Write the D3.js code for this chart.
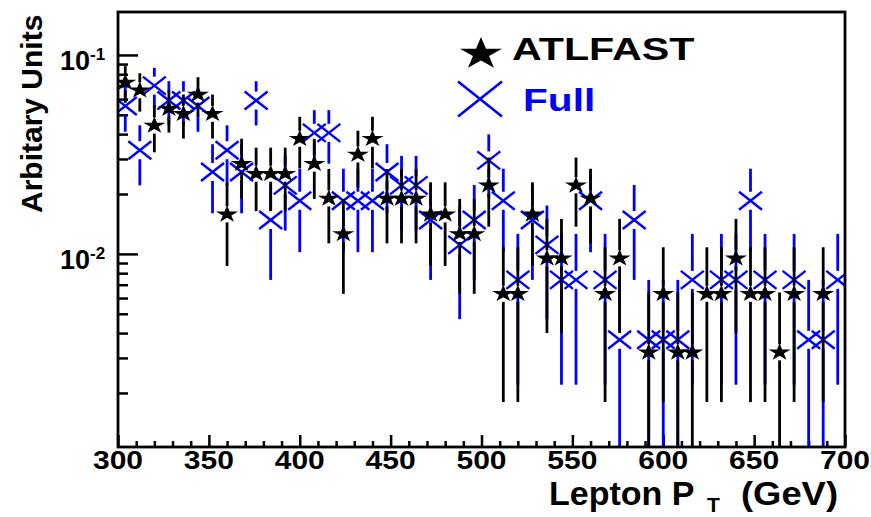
<!DOCTYPE html>
<html><head><meta charset="utf-8">
<script src="https://cdn.jsdelivr.net/npm/d3@7"></script>
<style>html,body{margin:0;padding:0;background:#fff;}svg{display:block;}</style>
</head><body>
<svg id="chart" width="871" height="517"></svg>
<script>
// ---- data ----
const binCenters = [304,312,320,328,336,344,352,360,368,376,384,392,400,408,416,424,432,440,448,456,464,472,480,488,496,504,512,520,528,536,544,552,560,568,576,584,592,600,608,616,624,632,640,648,656,664,672,680,688,696];
const atlfastValues = [0.0727,0.0664,0.0442,0.0537,0.0506,0.0632,0.0506,0.0158,0.0284,0.0253,0.0253,0.0253,0.0379,0.0284,0.0190,0.0126,0.0316,0.0379,0.0190,0.0190,0.0190,0.0158,0.0158,0.0126,0.0126,0.0221,0.0063,0.0063,0.0158,0.0095,0.0095,0.0221,0.0190,0.0063,0.0095,0,0.0032,0.0063,0.0032,0.0032,0.0063,0.0063,0.0095,0.0063,0.0063,0.0032,0.0063,0,0.0063,0];
const atlfastErrors = [0.0152,0.0145,0.0118,0.0130,0.0126,0.0141,0.0126,0.0071,0.0095,0.0089,0.0089,0.0089,0.0110,0.0095,0.0077,0.0063,0.0100,0.0110,0.0077,0.0077,0.0077,0.0071,0.0071,0.0063,0.0063,0.0084,0.0045,0.0045,0.0071,0.0055,0.0055,0.0084,0.0077,0.0045,0.0055,0,0.0032,0.0045,0.0032,0.0032,0.0045,0.0045,0.0055,0.0045,0.0045,0.0032,0.0045,0,0.0045,0];
const fullValues = [0.0554,0.0332,0.0701,0.0590,0.0590,0.0554,0.0258,0.0332,0.0258,0.0590,0.0148,0.0221,0.0185,0.0406,0.0406,0.0185,0.0185,0.0185,0.0258,0.0221,0.0221,0.0148,0,0.0111,0.0148,0.0295,0.0185,0.0074,0.0148,0.0111,0.0074,0.0074,0.0185,0.0074,0.0037,0.0148,0.0037,0.0037,0.0037,0.0074,0,0.0074,0.0074,0.0185,0.0074,0,0.0074,0.0037,0.0037,0.0074];
const fullErrors = [0.0143,0.0111,0.0161,0.0148,0.0148,0.0143,0.0098,0.0111,0.0098,0.0148,0.0074,0.0090,0.0083,0.0122,0.0122,0.0083,0.0083,0.0083,0.0098,0.0090,0.0090,0.0074,0,0.0064,0.0074,0.0104,0.0083,0.0052,0.0074,0.0064,0.0052,0.0052,0.0083,0.0052,0.0037,0.0074,0.0037,0.0037,0.0037,0.0052,0,0.0052,0.0052,0.0083,0.0052,0,0.0052,0.0037,0.0037,0.0052];
const xMajorTicks = [300,350,400,450,500,550,600,650,700];
const xMinorTicks = [310,320,330,340,360,370,380,390,410,420,430,440,460,470,480,490,510,520,530,540,560,570,580,590,610,620,630,640,660,670,680,690];
const yMajorTicks = [0.1,0.01];
const yMajorLabels = ["-1","-2"];
const yMinorTicks = [0.09,0.08,0.07,0.06,0.05,0.04,0.03,0.02,0.009,0.008,0.007,0.006,0.005,0.004,0.003,0.002];
const seriesNames = ["ATLFAST","Full"];
const xTitle = "Lepton P";
const xTitleSub = "T";
const xTitleUnit = "(GeV)";
const yTitle = "Arbitary Units";

// ---- layout ----
const L = 118, R = 845, T = 12, B = 447;
const FONT = "'Liberation Sans', Arial, Helvetica, sans-serif";
const BLUE = "#0000ff";
const SX = 1.3; // horizontal stretch of markers

const svg = d3.select("#chart");
const x = d3.scaleLinear().domain([300,700]).range([L,R]);
const y = d3.scaleLog().domain([0.00107,0.1644]).range([B,T]);

svg.append("defs").append("clipPath").attr("id","plotclip")
  .append("rect").attr("x",L).attr("y",T).attr("width",R-L).attr("height",B-T);

// axes (ticks inward)
const gxMaj = svg.append("g").attr("transform",`translate(0,${B})`)
  .call(d3.axisBottom(x).tickValues(xMajorTicks).tickSize(-12).tickFormat(""));
const gxMin = svg.append("g").attr("transform",`translate(0,${B})`)
  .call(d3.axisBottom(x).tickValues(xMinorTicks).tickSize(-6).tickFormat(""));
const gyMaj = svg.append("g").attr("transform",`translate(${L},0)`)
  .call(d3.axisLeft(y).tickValues(yMajorTicks).tickSize(-20).tickFormat(""));
const gyMin = svg.append("g").attr("transform",`translate(${L},0)`)
  .call(d3.axisLeft(y).tickValues(yMinorTicks).tickSize(-10).tickFormat(""));
[gxMaj,gxMin,gyMaj,gyMin].forEach(g=>{
  g.select(".domain").remove();
  g.selectAll(".tick line").attr("stroke","#000").attr("stroke-width",2.5);
});

// x tick labels
svg.append("g").selectAll("text").data(xMajorTicks).join("text")
  .attr("transform",d=>`translate(${x(d)},469) scale(1.2,1)`)
  .attr("text-anchor","middle").attr("font-family",FONT).attr("font-weight","bold")
  .attr("font-size",25).attr("fill","#000").text(d=>d);

// y tick labels 10^-n
const yl = svg.append("g").selectAll("text").data(yMajorTicks).join("text")
  .attr("x",60).attr("y",d=>y(d)+15).attr("text-anchor","start")
  .attr("font-family",FONT).attr("font-weight","bold").attr("fill","#000");
yl.append("tspan").attr("font-size",27).text("10");
yl.append("tspan").attr("font-size",17).attr("dy",-10).text((d,i)=>yMajorLabels[i]);

// titles
const xt = svg.append("text").attr("y",505).attr("font-family",FONT).attr("font-weight","bold")
  .attr("font-size",34).attr("fill","#000");
xt.append("tspan").attr("x",549).text(xTitle);
xt.append("tspan").attr("x",707).attr("dy",7).attr("font-size",21).text(xTitleSub);
xt.append("tspan").attr("x",741).attr("dy",-7).attr("textLength",97)
  .attr("lengthAdjust","spacingAndGlyphs").text(xTitleUnit);

svg.append("text").attr("transform","translate(42,213) rotate(-90)")
  .attr("text-anchor","start").attr("font-family",FONT).attr("font-weight","bold")
  .attr("font-size",30).attr("fill","#000").text(yTitle);

// marker shapes
function starPath(Ro){
  const ri = Ro*0.382; let p=[];
  for(let k=0;k<10;k++){
    const a = -Math.PI/2 + k*Math.PI/5;
    const r = k%2===0?Ro:ri;
    p.push([r*Math.cos(a), r*Math.sin(a)]);
  }
  return "M"+p.map(q=>q[0].toFixed(2)+","+q[1].toFixed(2)).join("L")+"Z";
}
function crossPath(hw,hh){
  return `M${-hw},${-hh}L${hw},${hh}M${-hw},${hh}L${hw},${-hh}`;
}

const plot = svg.append("g").attr("clip-path","url(#plotclip)");

function drawSeries(vals, errs, color, gap, markerFn){
  const data = binCenters.map((c,i)=>({c, v:vals[i], e:errs[i]})).filter(d=>d.v>0);
  const g = plot.append("g");
  g.selectAll("line.up").data(data).join("line")
    .attr("x1",d=>x(d.c)).attr("x2",d=>x(d.c))
    .attr("y1",d=>y(d.v+d.e)).attr("y2",d=>y(d.v)-gap)
    .attr("stroke",color).attr("stroke-width",2.8);
  g.selectAll("line.dn").data(data).join("line")
    .attr("x1",d=>x(d.c)).attr("x2",d=>x(d.c))
    .attr("y1",d=>y(d.v)+gap).attr("y2",d=>(d.v-d.e)>0.0009 ? y(d.v-d.e) : B+20)
    .attr("stroke",color).attr("stroke-width",2.8);
  markerFn(g, data);
}

// Full (drawn first)
drawSeries(fullValues, fullErrors, BLUE, 9, (g,data)=>{
  g.selectAll("path.m").data(data).join("path")
    .attr("transform",d=>`translate(${x(d.c)},${y(d.v)})`)
    .attr("d",crossPath(11.5,9)).attr("fill","none").attr("stroke",BLUE).attr("stroke-width",2.4);
});
// ATLFAST
drawSeries(atlfastValues, atlfastErrors, "#000", 8, (g,data)=>{
  g.selectAll("path.m").data(data).join("path")
    .attr("transform",d=>`translate(${x(d.c)},${y(d.v)}) scale(${SX},1)`)
    .attr("d",starPath(9)).attr("fill","#000");
});

// frame
svg.append("rect").attr("x",L).attr("y",T).attr("width",R-L).attr("height",B-T)
  .attr("fill","none").attr("stroke","#000").attr("stroke-width",2.8);

// legend
const lg = svg.append("g");
lg.append("path").attr("transform",`translate(481,54) scale(${SX},1)`).attr("d",starPath(17)).attr("fill","#000");
lg.append("text").attr("transform","translate(512,60) scale(1.33,1)").attr("font-family",FONT)
  .attr("font-weight","bold").attr("font-size",31).attr("fill","#000").text(seriesNames[0]);
lg.append("path").attr("transform","translate(480,99)").attr("d",crossPath(22,17.5))
  .attr("fill","none").attr("stroke",BLUE).attr("stroke-width",2.6);
lg.append("text").attr("transform","translate(523,111) scale(1.27,1)").attr("font-family",FONT)
  .attr("font-weight","bold").attr("font-size",32).attr("fill",BLUE).text(seriesNames[1]);
</script>
</body></html>
